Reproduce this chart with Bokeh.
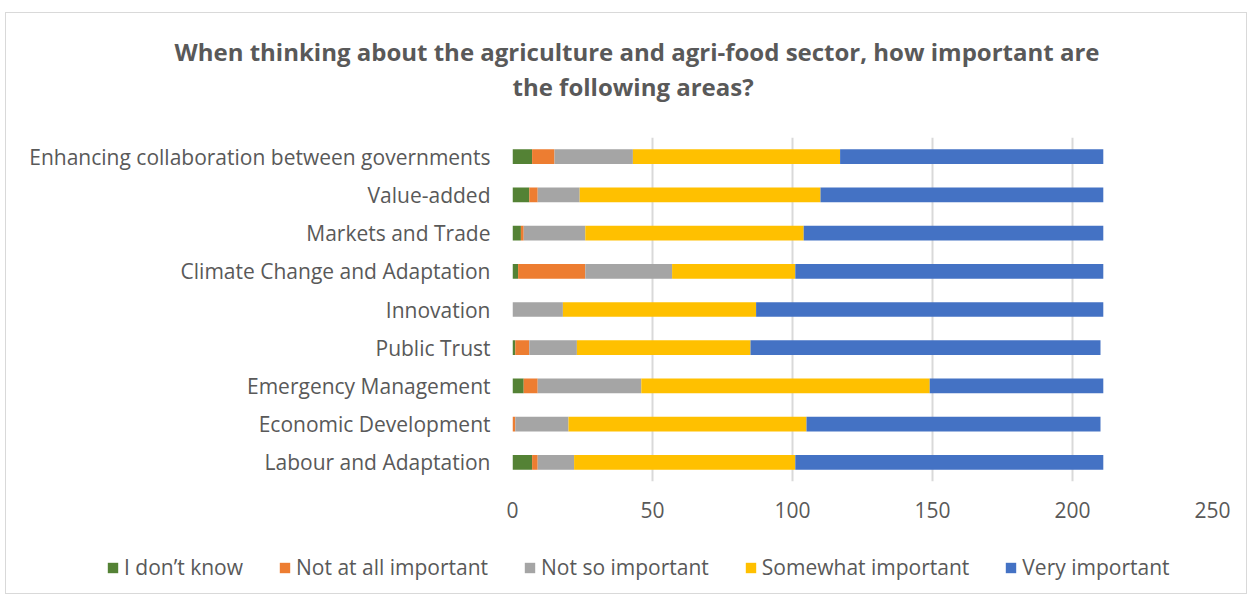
from bokeh.plotting import figure
from bokeh.layouts import column, row
from bokeh.models import ColumnDataSource, FactorRange, Legend, LegendItem, Range1d, FixedTicker, Title
from bokeh.embed import file_html
from bokeh.resources import INLINE

categories = [
    "Enhancing collaboration between governments",
    "Value-added",
    "Markets and Trade",
    "Climate Change and Adaptation",
    "Innovation",
    "Public Trust",
    "Emergency Management",
    "Economic Development",
    "Labour and Adaptation",
]
dont_know = [7, 6, 3, 2, 0, 1, 4, 0, 7]
not_at_all = [8, 3, 1, 24, 0, 5, 5, 1, 2]
not_so = [28, 15, 22, 31, 18, 17, 37, 19, 13]
somewhat = [74, 86, 78, 44, 69, 62, 103, 85, 79]
very = [94, 101, 107, 110, 124, 125, 62, 105, 110]

series_names = ["I don\u2019t know", "Not at all important", "Not so important",
                "Somewhat important", "Very important"]
series_keys = ["dk", "na", "ns", "sw", "vi"]
colors = ["#548235", "#ED7D31", "#A5A5A5", "#FFC000", "#4472C4"]
x_ticks = [0, 50, 100, 150, 200, 250]
title_lines = ["When thinking about the agriculture and agri-food sector, how important are",
               "the following areas?"]

source = ColumnDataSource(dict(cat=categories, dk=dont_know, na=not_at_all,
                               ns=not_so, sw=somewhat, vi=very))

FONT = "Open Sans"
TXT = "#595959"
W = 1240

p = figure(width=W, height=515, output_backend="svg", toolbar_location=None,
           title=None,
           y_range=FactorRange(factors=list(reversed(categories))),
           x_range=Range1d(0, 250),
           min_border_left=506, min_border_right=34, min_border_top=124, min_border_bottom=47)

spacer = Title(text=" ", text_font_size="2px", standoff=31)
t2 = Title(text=title_lines[1], align="left", offset=0, standoff=0,
           text_font=FONT, text_font_size="24px", text_font_style="bold", text_color=TXT)
t1 = Title(text=title_lines[0], align="left", offset=-338, standoff=0,
           text_font=FONT, text_font_size="24px", text_font_style="bold", text_color=TXT)
p.add_layout(spacer, "above")
p.add_layout(t2, "above")
p.add_layout(t1, "above")

renderers = p.hbar_stack(series_keys, y="cat", height=0.385, color=colors,
                         source=source, line_color=None)

p.xaxis.ticker = FixedTicker(ticks=x_ticks)
p.xaxis.axis_line_color = None
p.xaxis.major_tick_line_color = None
p.xaxis.minor_tick_line_color = None
p.xaxis.major_label_text_font = FONT
p.xaxis.major_label_text_font_size = "21px"
p.xaxis.major_label_text_color = TXT
p.xaxis.major_label_standoff = 14

p.yaxis.axis_line_color = None
p.yaxis.major_tick_line_color = None
p.yaxis.minor_tick_line_color = None
p.yaxis.major_label_text_font = FONT
p.yaxis.major_label_text_font_size = "21px"
p.yaxis.major_label_text_color = TXT
p.yaxis.major_label_standoff = 16

p.ygrid.grid_line_color = None
p.xgrid.grid_line_color = "#D9D9D9"
p.xgrid.grid_line_width = 2
p.outline_line_color = None

# legend strip below the chart (its bars sit outside the visible range, only the legend shows)
p2 = figure(width=W, height=65, output_backend="svg", toolbar_location=None,
            x_axis_type=None, y_axis_type=None,
            x_range=Range1d(-20, -10), y_range=FactorRange(factors=list(reversed(categories))),
            min_border=0)
p2.grid.grid_line_color = None
p2.outline_line_color = None
leg_renderers = p2.hbar_stack(series_keys, y="cat", height=0.385, color=colors,
                              source=source, line_color=None)
items = [LegendItem(label=n, renderers=[r]) for n, r in zip(series_names, leg_renderers)]
legend = Legend(items=items, orientation="horizontal", ncols=5, location=(100, 12),
                label_text_font=FONT, label_text_font_size="21px", label_text_color=TXT,
                glyph_width=13, glyph_height=13, spacing=35, label_standoff=5,
                border_line_color=None, background_fill_alpha=0, padding=0, margin=0)
p2.add_layout(legend, "center")

layout = column(p, row(p2, spacing=0), spacing=0, margin=(12, 0, 0, 5))
layout.styles = {"border": "1px solid #D9D9D9"}

open("out.html", "w").write(file_html(layout, INLINE))
